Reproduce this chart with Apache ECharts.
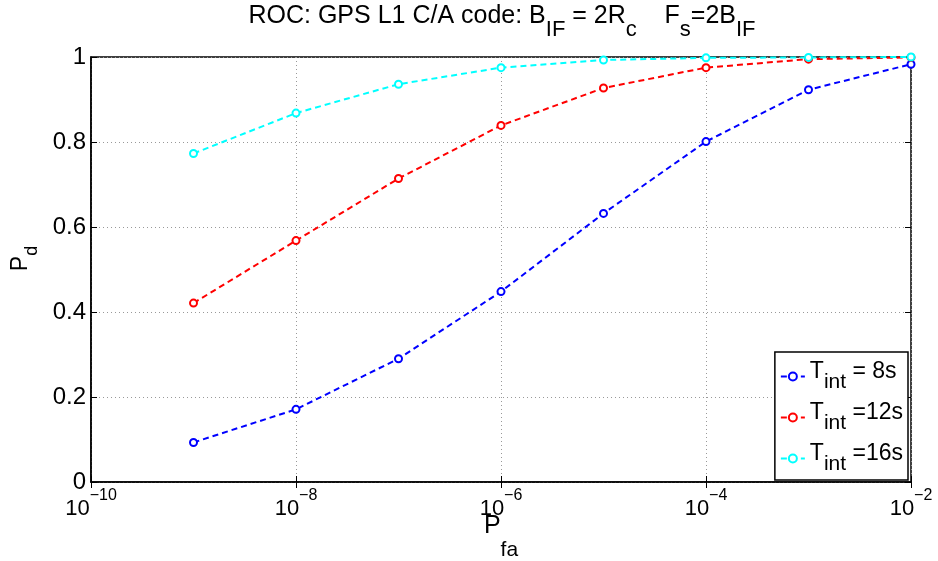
<!DOCTYPE html>
<html>
<head>
<meta charset="utf-8">
<script src="https://cdn.jsdelivr.net/npm/echarts@6/dist/echarts.min.js"></script>
<style>html,body{margin:0;padding:0;background:#fff}#c{width:938px;height:561px}</style>
</head>
<body>
<div id="c"></div>
<script>
const pfa = [1e-9, 1e-8, 1e-7, 1e-6, 1e-5, 1e-4, 1e-3, 1e-2];
const pd8 = [0.093, 0.171, 0.290, 0.448, 0.632, 0.801, 0.923, 0.983];
const pd12 = [0.421, 0.568, 0.714, 0.839, 0.927, 0.975, 0.995, 0.999];
const pd16 = [0.773, 0.868, 0.936, 0.975, 0.993, 0.998, 0.999, 1.000];
const seriesNames = ['T8', 'T12', 'T16'];
const legendTexts = {T8: '{b|T}{s|int}{b| = 8s}', T12: '{b|T}{s|int}{b| =12s}', T16: '{b|T}{s|int}{b| =16s}'};
const yTicks = [0, 0.2, 0.4, 0.6, 0.8, 1];

const FONT = 'Liberation Sans';
const pair = (xs, ys) => xs.map((x, i) => [x, ys[i]]);
const mk = (name, data, color) => ({
  name, type: 'line', data: pair(pfa, data),
  symbol: 'emptyCircle', symbolSize: 7,
  lineStyle: {color, width: 2, type: [6, 4]},
  itemStyle: {color, borderWidth: 2},
  emphasis: {disabled: true}
});
const supFmt = v => {
  const e = Math.round(Math.log10(v));
  return '{b|10}{p|\u2212' + Math.abs(e) + '}';
};
const chart = echarts.init(document.getElementById('c'), null, {renderer: 'canvas'});
chart.setOption({
  animation: false,
  backgroundColor: '#fff',
  textStyle: {fontFamily: FONT},
  title: {
    text: '{a|ROC: GPS L1 C/A code: B}{s|IF}{a| = 2R}{s|c}{a|    F}{s|s}{a|=2B}{s|IF}',
    left: 502, top: 4, textAlign: 'center', padding: 0,
    textStyle: {
      fontWeight: 'normal',
      rich: {
        a: {fontSize: 25, fontFamily: FONT, color: '#000', verticalAlign: 'top', lineHeight: 27},
        s: {fontSize: 22, fontFamily: FONT, color: '#000', verticalAlign: 'bottom', lineHeight: 37}
      }
    }
  },
  grid: {left: 91, right: 27, top: 57, bottom: 79, show: true, borderColor: '#000', borderWidth: 1.5,
         containLabel: false, outerBoundsMode: 'none'},
  legend: {
    orient: 'vertical', right: 30, bottom: 81,
    backgroundColor: '#fff', borderColor: '#000', borderWidth: 1.5, borderRadius: 0,
    padding: [8, 5, 5, 5], itemGap: 8, itemWidth: 24, itemHeight: 10,
    data: seriesNames,
    formatter: n => legendTexts[n],
    textStyle: {
      rich: {
        b: {fontSize: 23, fontFamily: FONT, color: '#000', verticalAlign: 'top', lineHeight: 25},
        s: {fontSize: 21, fontFamily: FONT, color: '#000', verticalAlign: 'bottom', lineHeight: 33}
      }
    }
  },
  xAxis: [{
    type: 'log', logBase: 10, min: 1e-10, max: 1e-2, interval: 2,
    name: '{b|P}{s|fa}', nameLocation: 'middle', nameGap: 32, nameMoveOverlap: false,
    nameTextStyle: {
      rich: {
        b: {fontSize: 25, fontFamily: FONT, color: '#000', verticalAlign: 'top', lineHeight: 26},
        s: {fontSize: 21, fontFamily: FONT, color: '#000', verticalAlign: 'bottom', lineHeight: 47}
      }
    },
    axisLine: {lineStyle: {color: '#000', width: 1.5}},
    axisTick: {inside: true, length: 6, lineStyle: {color: '#000'}},
    minorTick: {show: false},
    axisLabel: {
      margin: 6, formatter: supFmt,
      rich: {
        b: {fontSize: 22, fontFamily: FONT, color: '#000', verticalAlign: 'bottom', lineHeight: 32},
        p: {fontSize: 16, fontFamily: FONT, color: '#000', verticalAlign: 'top', lineHeight: 16}
      }
    },
    splitLine: {show: true, lineStyle: {color: '#999', type: [1, 3], width: 1}}
  }, {
    type: 'log', logBase: 10, min: 1e-10, max: 1e-2, interval: 2, position: 'top',
    axisLine: {show: false}, axisLabel: {show: false}, splitLine: {show: false},
    axisTick: {inside: true, length: 6, lineStyle: {color: '#000'}}
  }],
  yAxis: [{
    type: 'value', min: 0, max: 1, interval: 0.2,
    name: '{b|P}{s|d}', nameLocation: 'middle', nameGap: 50, nameRotate: 90, nameMoveOverlap: false,
    nameTextStyle: {
      padding: [0, 0, 0, 22],
      rich: {
        b: {fontSize: 23, fontFamily: FONT, color: '#000', verticalAlign: 'top', lineHeight: 24},
        s: {fontSize: 18, fontFamily: FONT, color: '#000', verticalAlign: 'bottom', lineHeight: 32}
      }
    },
    axisLine: {lineStyle: {color: '#000', width: 1.5}},
    axisTick: {inside: true, length: 6, lineStyle: {color: '#000'}},
    axisLabel: {
      margin: 5, fontSize: 24, fontFamily: FONT, color: '#000',
      formatter: v => { const t = yTicks.find(k => Math.abs(k - v) < 1e-9); return t === undefined ? '' : String(t); }
    },
    splitLine: {show: true, lineStyle: {color: '#999', type: [1, 3], width: 1}}
  }, {
    type: 'value', min: 0, max: 1, interval: 0.2, position: 'right',
    axisLine: {show: false}, axisLabel: {show: false}, splitLine: {show: false},
    axisTick: {show: true, inside: true, length: 6, lineStyle: {color: '#000'}}
  }],
  series: [
    mk('T8', pd8, '#0000ff'),
    mk('T12', pd12, '#ff0000'),
    mk('T16', pd16, '#00ffff')
  ]
});
</script>
</body>
</html>
